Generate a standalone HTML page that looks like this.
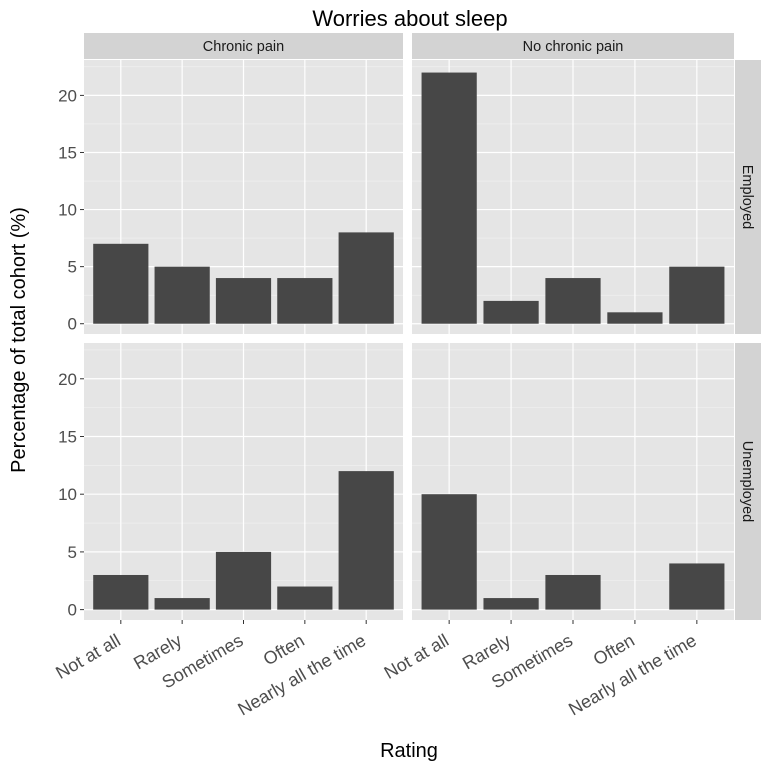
<!DOCTYPE html>
<html><head><meta charset="utf-8"><style>
body{margin:0;background:#fff;}
svg text{font-family:"Liberation Sans",Arial,sans-serif;}
</style></head><body>
<svg id="chart" width="768" height="768" xmlns="http://www.w3.org/2000/svg"></svg>
<script>
const categories = ["Not at all","Rarely","Sometimes","Often","Nearly all the time"];
const colFacets = ["Chronic pain","No chronic pain"];
const rowFacets = ["Employed","Unemployed"];
const chronicEmployed = [7,5,4,4,8];
const noChronicEmployed = [22,2,4,1,5];
const chronicUnemployed = [3,1,5,2,12];
const noChronicUnemployed = [10,1,3,0,4];
const yTicks = [0,5,10,15,20];

const svg = document.getElementById('chart');
const NS = "http://www.w3.org/2000/svg";
function mk(tag, attrs, parent){const e=document.createElementNS(NS,tag);for(const k in attrs)e.setAttribute(k,attrs[k]);(parent||svg).appendChild(e);return e;}

const panelX = [[84,403],[412,734]];
const panelY = [[60,334],[343,620]];
const yMin=-0.9, yMax=23.1;
const series = [[chronicEmployed,noChronicEmployed],[chronicUnemployed,noChronicUnemployed]];

function yScale(r,v){const [t,b]=panelY[r];return b-(v-yMin)/(yMax-yMin)*(b-t);}
function xScale(c,i){const [l,r]=panelX[c];return l+(i+1-0.4)/5.2*(r-l);}
const bw = 0.9/5.2*(403-84);

const title=mk('text',{x:410,y:26,'text-anchor':'middle','font-size':22,fill:'#000'});
title.textContent="Worries about sleep";



for(let r=0;r<2;r++)for(let c=0;c<2;c++){
  const g=mk('g',{});
  
  
  const [l,rr]=panelX[c],[t,b]=panelY[r];
  mk('rect',{x:l,y:t,width:rr-l,height:b-t,fill:'#e5e5e5'},g);
  for(let k=0;k<yTicks.length;k++){
    const v=yTicks[k];
    mk('line',{x1:l,x2:rr,y1:yScale(r,v+2.5),y2:yScale(r,v+2.5),stroke:'#f2f2f2','stroke-width':0.6},g);
    mk('line',{x1:l,x2:rr,y1:yScale(r,v),y2:yScale(r,v),stroke:'#fff','stroke-width':1.2},g);
  }
  for(let i=0;i<categories.length;i++){
    const x=xScale(c,i);
    mk('line',{x1:x,x2:x,y1:t,y2:b,stroke:'#fff','stroke-width':1.2},g);
  }
  const data=series[r][c];
  for(let i=0;i<data.length;i++){
    const y0=yScale(r,0),y1=yScale(r,data[i]);
    const bar=mk('rect',{x:xScale(c,i)-bw/2,y:Math.min(y0,y1),width:bw,height:Math.abs(y0-y1),fill:'#474747'},g);
    
    
  }
}
for(let c=0;c<2;c++){
  const [l,rr]=panelX[c];
  mk('rect',{x:l,y:33,width:rr-l,height:26,fill:'#d3d3d3'});
  const t=mk('text',{x:(l+rr)/2,y:51,'text-anchor':'middle','font-size':14.5,fill:'#1a1a1a'});
  t.textContent=colFacets[c];
  
  
}
for(let r=0;r<2;r++){
  const [t,b]=panelY[r];
  mk('rect',{x:735,y:t,width:26,height:b-t,fill:'#d3d3d3'});
  const tx=mk('text',{x:0,y:0,'text-anchor':'middle','font-size':14.5,fill:'#1a1a1a',transform:`translate(743,${(t+b)/2}) rotate(90)`});
  tx.textContent=rowFacets[r];
  
  
}
for(let r=0;r<2;r++){
  for(const v of yTicks){
    const y=yScale(r,v);
    mk('line',{x1:80,x2:84,y1:y,y2:y,stroke:'#333','stroke-width':1});
    const t=mk('text',{x:77,y:y+6,'text-anchor':'end','font-size':17,fill:'#4d4d4d'});
    t.textContent=v;
    
    
  }
}
for(let c=0;c<2;c++){
  for(let i=0;i<categories.length;i++){
    const x=xScale(c,i);
    mk('line',{x1:x,x2:x,y1:620,y2:624,stroke:'#333','stroke-width':1});
    const t=mk('text',{x:0,y:0,'text-anchor':'end','font-size':18,fill:'#4d4d4d',transform:`translate(${x+1},${644}) rotate(-30)`});
    t.textContent=categories[i];
    
    
  }
}
const xt=mk('text',{x:409,y:757,'text-anchor':'middle','font-size':20,fill:'#000'});
xt.textContent="Rating";


const yt=mk('text',{x:0,y:0,'text-anchor':'middle','font-size':20,fill:'#000',transform:'translate(25,340) rotate(-90)'});
yt.textContent="Percentage of total cohort (%)";


</script>
</body></html>
